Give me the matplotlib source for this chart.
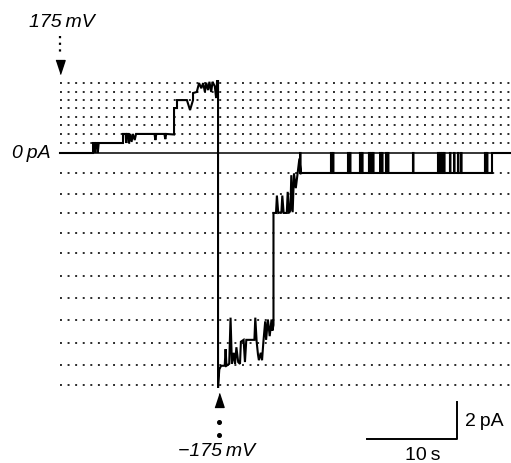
import numpy as np
import matplotlib.pyplot as plt

plt.rcParams['font.family'] = ['Liberation Sans', 'DejaVu Sans']

# current levels (pA) marked by the dotted guide lines
levels_up = [0.54, 1.03, 1.51, 1.95, 2.43, 2.86, 3.30, 3.78]
levels_down = [-1.08, -2.22, -3.24, -4.32, -5.41, -6.65, -7.84, -9.03, -10.27, -11.46, -12.54]

# trace at +175 mV (time s, current pA)
t_pos = [0, 3.67, 3.67, 3.85, 3.9, 4.0, 4.15, 4.2, 4.3, 7.0, 7.0, 7.3, 7.35, 7.45, 7.6, 7.65,
         7.8, 7.95, 8.1, 8.3, 8.45, 10.5, 10.6, 10.7, 11.6, 11.7, 11.8, 12.67, 12.67, 13.0,
         13.0, 14.1, 14.45, 14.78, 14.78, 15.2, 15.45, 15.7, 15.9, 16.1, 16.25, 16.45, 16.6,
         16.8, 16.95, 17.2, 17.35, 17.45, 17.56]
i_pos = [0, 0, 0.54, 0.54, 0, 0.54, 0.54, 0, 0.54, 0.54, 1.03, 1.03, 0.54, 1.03, 1.03, 0.54,
         1.03, 0.6, 1.03, 0.7, 1.03, 1.03, 0.7, 1.03, 1.03, 0.75, 1.03, 1.0, 2.43, 2.43,
         2.86, 2.86, 2.32, 2.86, 3.24, 3.3, 3.78, 3.5, 3.78, 3.3, 3.8, 3.4, 3.85,
         3.3, 3.85, 3.6, 2.97, 3.89, 3.89]

# trace after the switch to -175 mV
t_neg = [17.56, 17.7, 17.9, 18.3, 18.4, 18.5, 18.8, 18.95, 19.1, 19.3, 19.45, 19.6, 19.8,
         20.0, 20.1, 20.4, 20.55, 20.7, 21.6, 21.7, 21.85, 22.0, 22.1, 22.3, 22.45, 22.6,
         22.8, 22.9, 23.1, 23.3, 23.5, 23.6, 23.72, 23.72, 24.0, 24.1, 24.25, 24.6, 24.7,
         24.85, 25.2, 25.3, 25.45, 25.6, 25.7, 25.85, 26.0, 26.2, 26.4, 26.6, 26.75, 26.9]
i_neg = [-12.7, -11.7, -11.5, -11.5, -10.6, -11.5, -11.4, -8.9, -11.4, -10.8, -11.4, -10.5, -11.3,
         -11.4, -10.2, -10.1, -11.3, -10.1, -10.1, -8.9, -10.2, -10.9, -11.2, -10.8, -11.2, -10.2,
         -9.1, -10.1, -9.0, -9.9, -9.0, -9.6, -9.3, -3.24, -3.24, -2.3, -3.24, -3.2, -2.3,
         -3.24, -3.24, -2.1, -3.24, -3.1, -1.2, -3.2, -1.1, -1.9, -1.1, -0.3, -1.1, -1.08]

# brief returns to 0 pA from the -1 level
spike_t = [26.67, 30.11, 30.33, 32.0, 32.22, 33.33, 33.56, 34.33, 34.56, 34.78, 35.56, 35.78,
           36.22, 36.44, 39.22, 42.0, 42.22, 42.44, 42.67, 43.33, 43.78, 44.22, 44.56,
           47.22, 47.44]
spike_w = 0.05
t_close = 48.0
t_max = 50.2

# build the full trace
tt = t_pos + t_neg
ii = i_pos + i_neg
for s in spike_t:
    tt += [s, s, s + spike_w, s + spike_w]
    ii += [-1.08, 0, 0, -1.08]
tt += [t_close, t_close, t_max]
ii += [-1.08, 0, 0]

fig = plt.figure(figsize=(5.11, 4.63), dpi=100)
ax = fig.add_axes([0, 0, 1, 1])
ax.axis('off')
ax.set_xlim(-60 / 9, 451 / 9)
ax.set_ylim(-310 / 18.5, 153 / 18.5)

ax.hlines(levels_up + levels_down, 0, t_max, colors='#2a2a2a', lw=1.4,
          linestyles=[(0, (1, 2.9))])
ax.hlines(0, 0, t_max, colors='black', lw=1.1)
ax.plot(tt, ii, color='black', lw=1.5, solid_joinstyle='miter')

# voltage step arrows
ax.plot([0, 0], [6.35, 5.35], color='black', lw=1.6, ls=(0, (1, 2)))
ax.plot(0, 4.65, marker=[(-0.33, 0.5), (0.33, 0.5), (0, -0.5)], ms=10, color='black', ls='none')
ax.plot(17.67, -13.35, marker=[(-0.33, -0.5), (0.33, -0.5), (0, 0.5)], ms=10, color='black', ls='none')
ax.plot([17.67, 17.67], [-14.54, -15.24], marker='o', ms=2.6, color='black', ls='none')

ax.text(0.2, 7.05, '175\u2009mV', style='italic', fontsize=14, ha='center', va='center')
ax.text(-1.0, 0, '0\u2009pA', style='italic', fontsize=14, ha='right', va='center')
ax.text(17.4, -16.15, '\u2212175\u2009mV', style='italic', fontsize=14, ha='center', va='center')

# scale bar
ax.plot([34.11, 44.11, 44.11], [-15.46, -15.46, -13.46], color='black', lw=1.4)
ax.text(45.0, -14.5, '2\u2009pA', fontsize=14, ha='left', va='center')
ax.text(40.3, -16.35, '10\u2009s', fontsize=14, ha='center', va='center')

fig.savefig('out.png', dpi=100)
